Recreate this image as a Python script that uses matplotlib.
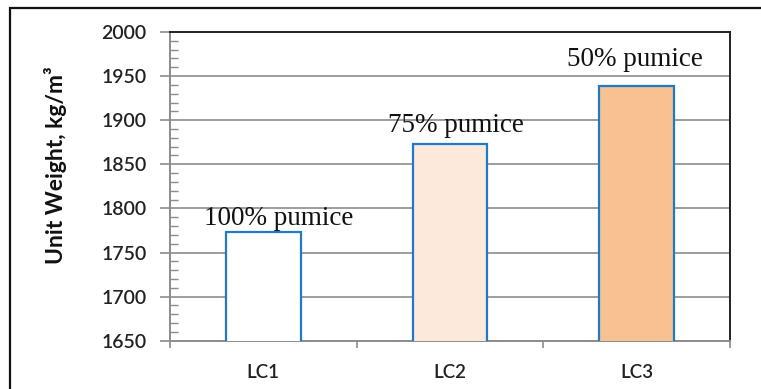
import matplotlib.pyplot as plt
from matplotlib.patches import Rectangle
from matplotlib.ticker import MultipleLocator, FixedLocator

categories = ["LC1", "LC2", "LC3"]
unit_weight = [1773, 1873, 1939]
labels = ["100% pumice", "75% pumice", "50% pumice"]
label_dy = [1, 7, 16]
label_dx = [0.08, 0.03, -0.01]
fill_colors = ["#FFFFFF", "#FCE9DB", "#F8C192"]
edge_color = "#1F7BC9"

fig = plt.figure(figsize=(7.61, 3.89), dpi=100)
fig.patches.append(Rectangle((10 / 761, -0.1), 1.2, (389 - 8) / 389 + 0.1,
                             transform=fig.transFigure, fill=False,
                             edgecolor="#111111", linewidth=1.6))

ax = fig.add_axes([170 / 761, (389 - 340.7) / 389, 560 / 761, 308.7 / 389])

x = range(len(categories))
ax.bar(x, unit_weight, width=0.40, color=fill_colors, edgecolor=edge_color,
       linewidth=1.6, zorder=3)

for xi, v, lab, dx, dy in zip(x, unit_weight, labels, label_dx, label_dy):
    ax.text(xi + dx, v + dy, lab, ha="center", va="bottom",
            family="Liberation Serif", fontsize=19.5, color="#111111", zorder=4)

ax.set_xlim(-0.5, 2.5)
ax.set_ylim(1650, 2000)
ax.yaxis.set_major_locator(MultipleLocator(50))
ax.yaxis.set_minor_locator(MultipleLocator(10))
ax.yaxis.grid(True, which="major", color="#8C8C8C", linewidth=1.2, zorder=0)

ax.set_xticks(list(x))
ax.set_xticklabels(categories)
ax.xaxis.set_minor_locator(FixedLocator([-0.5, 0.5, 1.5, 2.5]))
ax.tick_params(axis="x", which="major", length=0, pad=17, labelsize=13.5)
ax.tick_params(axis="x", which="minor", length=5, width=1.2, color="#8C8C8C",
               direction="out")
ax.tick_params(axis="y", which="major", length=7, width=1.2, color="#8C8C8C",
               direction="out", labelsize=14, pad=10)
ax.tick_params(axis="y", which="minor", length=6, width=1.0, color="#8C8C8C",
               direction="in")
for lab in ax.get_xticklabels() + ax.get_yticklabels():
    lab.set_family("Lato")
    lab.set_color("#222222")
    lab.set_fontweight("semibold")

ax.spines["left"].set_color("#8C8C8C")
ax.spines["bottom"].set_color("#8C8C8C")
ax.spines["left"].set_linewidth(1.4)
ax.spines["bottom"].set_linewidth(1.4)
ax.spines["top"].set_color("#222222")
ax.spines["right"].set_color("#222222")
ax.spines["top"].set_linewidth(1.4)
ax.spines["right"].set_linewidth(1.4)

ax.set_ylabel("Unit Weight, kg/m³", family="Lato", fontweight="bold",
              fontsize=16.5, color="#111111")
ax.yaxis.set_label_coords(-0.184, 0.57)

fig.savefig("out.png", dpi=100)
